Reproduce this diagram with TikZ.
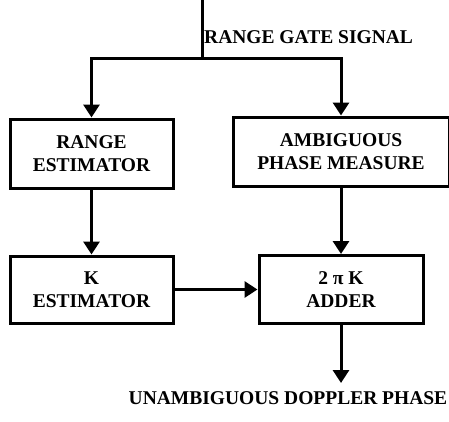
\documentclass[tikz,border=0pt]{standalone}
\usepackage{fontspec}
\setmainfont{Liberation Serif}
\usetikzlibrary{arrows.meta}
\tikzset{
  blk/.style={draw, line width=3pt, rectangle, align=center, inner sep=0pt, font=\bfseries\fontsize{19.5}{23}\selectfont},
  lbl/.style={inner sep=0pt, font=\bfseries\fontsize{19.5}{23}\selectfont},
  wire/.style={line width=3pt},
  arr/.style={line width=3pt, -{Triangle[width=16pt,length=13pt]}}
}
\begin{document}
\begin{tikzpicture}[x=1pt,y=-1pt]
\useasboundingbox (0,0) rectangle (449,421);
\node[blk, minimum width=163pt, minimum height=69pt] (range) at (91.5,153.5) {RANGE\\ESTIMATOR};
\node[blk, minimum width=216pt, minimum height=69pt] (amb) at (341,151.5) {AMBIGUOUS\\PHASE MEASURE};
\node[blk, minimum width=163pt, minimum height=67pt] (kest) at (91.5,289.5) {K\\ESTIMATOR};
\node[blk, minimum width=164pt, minimum height=68pt] (adder) at (341,289.5) {2 π K\\ADDER};
\coordinate (top) at (202,0);
\coordinate (junc) at (202,58);
\coordinate (out) at (341,383);
\node[lbl, anchor=west] (rgs) at (204,37) {RANGE GATE SIGNAL};
\node[lbl] (ud) at (288,398) {UNAMBIGUOUS DOPPLER PHASE};
\draw[wire] (top) -- (junc);
\draw[arr] (junc) -| (range.north);
\draw[arr] (junc) -| (amb.north);
\draw[arr] (range.south) -- (kest.north);
\draw[arr] (amb.south) -- (adder.north);
\draw[arr] (kest.east) -- (adder.west);
\draw[arr] (adder.south) -- (out);
\end{tikzpicture}
\end{document}
